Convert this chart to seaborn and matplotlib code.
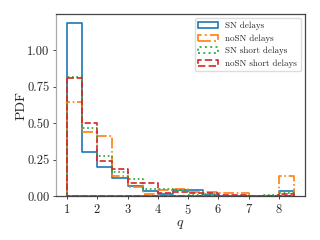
import numpy as np
import pandas as pd
import matplotlib
matplotlib.use("Agg")
import matplotlib.pyplot as plt
import seaborn as sns

# bin edges of q (width 0.5) and the PDF height of each bin
q_edges = np.arange(1.0, 8.51, 0.5)
q_centers = (q_edges[:-1] + q_edges[1:]) / 2

sn_delays = [1.19, 0.305, 0.20, 0.126, 0.068, 0.036, 0.018, 0.04, 0.043, 0.01,
             0.0, 0.0, 0.0, 0.0, 0.034]
nosn_delays = [0.645, 0.438, 0.415, 0.14, 0.063, 0.014, 0.046, 0.048, 0.03, 0.033,
               0.025, 0.025, 0.004, 0.003, 0.142]
sn_short = [0.82, 0.465, 0.275, 0.164, 0.118, 0.05, 0.05, 0.045, 0.012, 0.014,
            0.005, 0.004, 0.004, 0.006, 0.024]
nosn_short = [0.81, 0.50, 0.245, 0.187, 0.092, 0.088, 0.024, 0.032, 0.02, 0.02,
              0.012, 0.01, 0.004, 0.003, 0.016]

labels = ["SN delays", "noSN delays", "SN short delays", "noSN short delays"]
series = [sn_delays, nosn_delays, sn_short, nosn_short]
colors = ["#1f77b4", "#ff7f0e", "#2ca02c", "#d62728"]
styles = ["-", "-.", ":", "--"]

sns.set_style("ticks")
plt.rcParams.update({
    "font.family": "serif",
    "font.serif": ["cmr10", "DejaVu Serif"],
    "mathtext.fontset": "cm",
    "axes.formatter.use_mathtext": True,
    "axes.unicode_minus": False,
})

fig = plt.figure(figsize=(3.2, 2.4), dpi=100)
ax = fig.add_axes([0.174, 0.182, 0.78, 0.76])

for lab, vals, c, ls in zip(labels, series, colors, styles):
    df = pd.DataFrame({"q": q_centers, "pdf": vals})
    sns.histplot(data=df, x="q", weights="pdf", binwidth=0.5,
                 binrange=(q_edges[0], q_edges[-1]), stat="count",
                 element="step", fill=True, color=c, facecolor="none",
                 edgecolor=c, linestyle=ls, linewidth=1.2, label=lab, ax=ax)

ax.set_xticks(range(1, 9))
ax.set_yticks([0, 0.25, 0.5, 0.75, 1.0])
ax.set_yticklabels(["0.00", "0.25", "0.50", "0.75", "1.00"])
ax.set_xlabel("$q$", fontsize=10, labelpad=1)
ax.set_ylabel("PDF", fontsize=10, labelpad=0)
ax.tick_params(labelsize=9, length=2.5, width=0.6, pad=2)
for s in ax.spines.values():
    s.set_visible(True)
    s.set_color("#444444")
    s.set_linewidth(0.9)
ax.spines["left"].set_color("#aaaaaa")

ax.legend(loc="upper right", fontsize=6.5, frameon=True, framealpha=1,
          edgecolor="#dddddd", handlelength=2.2, borderpad=0.4,
          labelspacing=0.45)

fig.savefig("out.png", dpi=100)
